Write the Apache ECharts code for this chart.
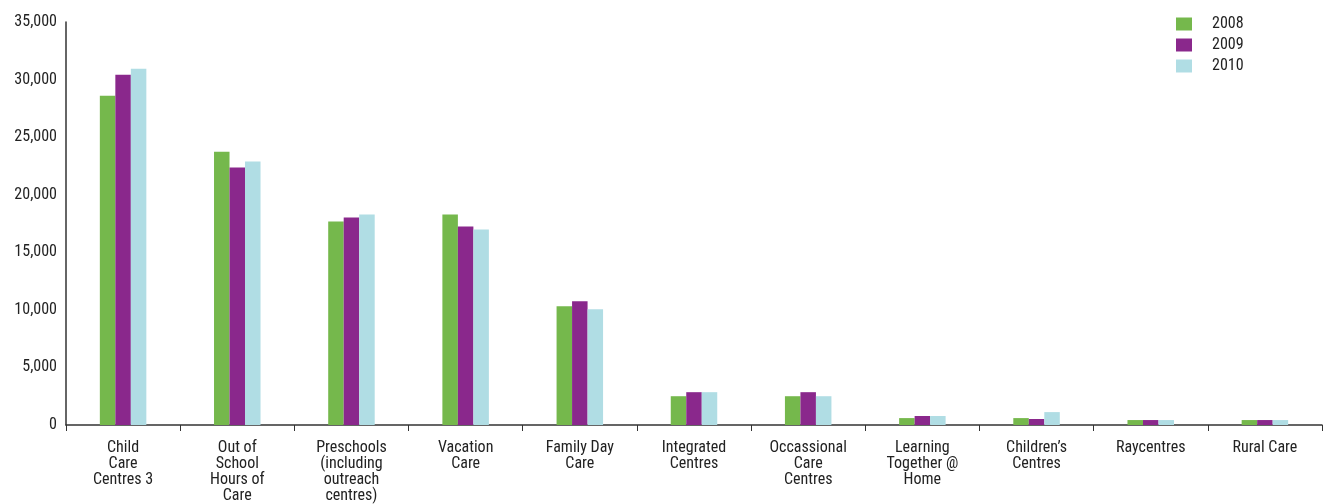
<!DOCTYPE html>
<html>
<head>
<meta charset="utf-8">
<script src="https://cdn.jsdelivr.net/npm/echarts@6/dist/echarts.min.js"></script>
<style>
  html, body { margin: 0; padding: 0; background: #fff; }
  #chart { width: 1328px; height: 504px; }
</style>
</head>
<body>
<div id="chart"></div>
<script>
const categories = [
  'Child\nCare\nCentres 3', 'Out of\nSchool\nHours of\nCare', 'Preschools\n(including\noutreach\ncentres)',
  'Vacation\nCare', 'Family Day\nCare', 'Integrated\nCentres', 'Occassional\nCare\nCentres',
  'Learning\nTogether @\nHome', 'Children\u2019s\nCentres', 'Raycentres', 'Rural Care'
];
const years = ['2008', '2009', '2010'];
const v2008 = [28600, 23740, 17680, 18280, 10310, 2500, 2500, 600, 600, 430, 430];
const v2009 = [30420, 22360, 18020, 17240, 10750, 2850, 2850, 780, 520, 430, 430];
const v2010 = [30940, 22880, 18280, 16980, 10050, 2850, 2500, 780, 1120, 430, 430];
const yTicks = { min: 0, max: 35000, interval: 5000 };

(function () {
  const FONT = '"Liberation Sans Narrow", "Roboto Condensed", Roboto, sans-serif';
  const colors = ['#75b84c', '#8a288c', '#b0dde4'];
  const chart = echarts.init(document.getElementById('chart'));
  const values = [v2008, v2009, v2010];

  chart.setOption({
    animation: false,
    color: colors,
    legend: {
      orient: 'vertical',
      left: 1171,
      top: 11,
      itemWidth: 16,
      itemHeight: 13,
      itemGap: 5,
      icon: 'rect',
      textStyle: { fontFamily: FONT, fontSize: 16, color: '#222', padding: [0, 0, 0, 15] },
      data: years,
    },
    grid: { left: 66, right: 6, top: 22, bottom: 78, containLabel: false },
    xAxis: {
      type: 'category',
      data: categories,
      axisLine: { lineStyle: { color: '#333', width: 1.5 } },
      axisTick: { show: true, length: 6, lineStyle: { color: '#333' } },
      axisLabel: {
        interval: 0,
        margin: 15,
        fontFamily: FONT,
        fontSize: 16,
        lineHeight: 16,
        color: '#222',
        align: 'center',
      },
    },
    yAxis: {
      type: 'value',
      min: yTicks.min,
      max: yTicks.max,
      interval: yTicks.interval,
      axisLine: { show: true, lineStyle: { color: '#333', width: 1.5 } },
      axisTick: { show: false },
      splitLine: { show: false },
      axisLabel: {
        margin: 9,
        fontFamily: FONT,
        fontSize: 16,
        color: '#222',
        formatter: v => v.toLocaleString('en-US'),
      },
    },
    series: years.map((y, i) => ({
      name: y,
      type: 'bar',
      data: values[i],
      barWidth: 15.5,
      barGap: '0%',
    })),
  });
})();
</script>
</body>
</html>
